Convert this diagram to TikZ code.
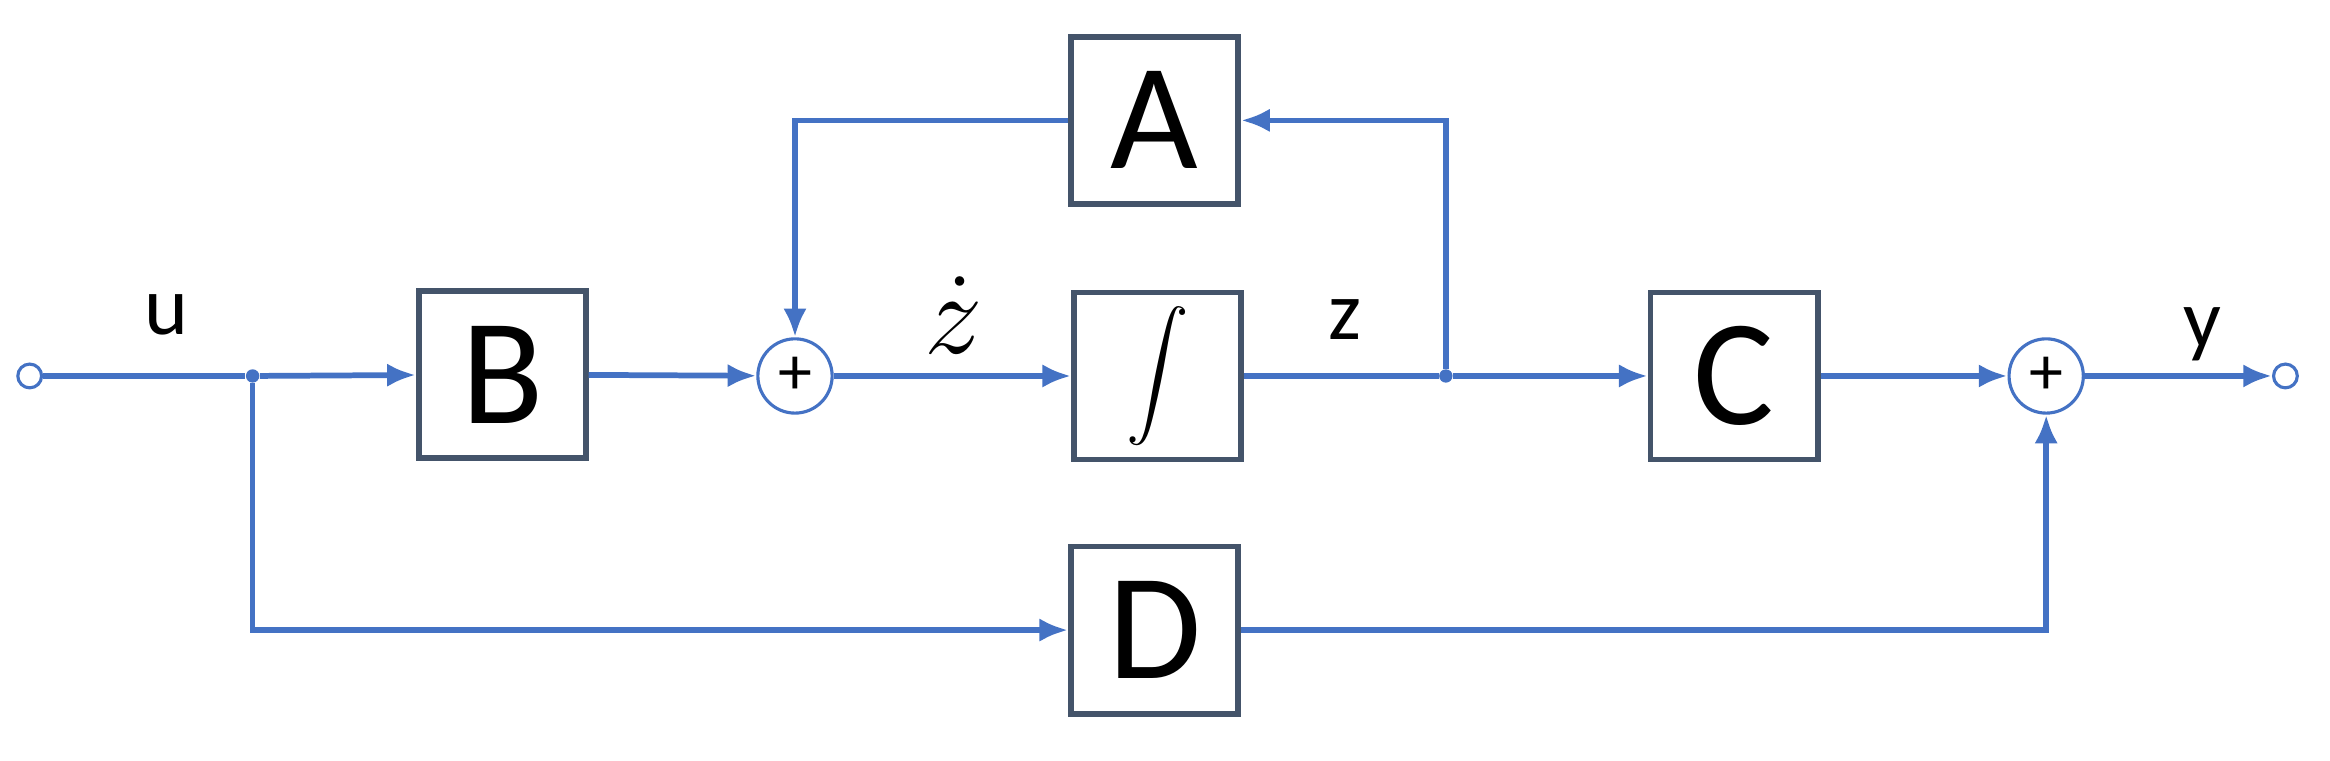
\documentclass[tikz,border=0pt]{standalone}
\usepackage{fontspec}
\setmainfont{Carlito}
\usetikzlibrary{arrows.meta}
\definecolor{wire}{HTML}{4472C4}
\definecolor{frame}{HTML}{44546A}
\begin{document}
\begin{tikzpicture}[x=0.02cm,y=-0.02cm,
  blk/.style={draw=frame,line width=2.2pt,minimum width=2.25cm,minimum height=2.25cm,inner sep=0pt,font=\fontsize{58}{60}\selectfont},
  sum/.style={circle,draw=wire,line width=1.2pt,minimum size=1cm,inner sep=0pt,font=\fontsize{26}{28}\selectfont},
  term/.style={circle,draw=wire,line width=1.2pt,minimum size=0.32cm,inner sep=0pt},
  dot/.style={circle,fill=wire,minimum size=0.18cm,inner sep=0pt},
  w/.style={draw=wire,line width=2.2pt},
  a/.style={w,-{Latex[length=11pt,width=9pt]}},
  lbl/.style={font=\fontsize{32}{34}\selectfont}]
\useasboundingbox (0,0) rectangle (1568,512);
\node[term] (in) at (20,253) {};
\node[term] (out) at (1538,253) {};
\node[dot] (j1) at (170,253) {};
\node[dot] (j2) at (973,253) {};
\node[blk] (B) at (338,252) {B};
\node[sum] (s1) at (535,253) {+};
\node[blk] (I) at (779,253) {\scalebox{2.4}{$\displaystyle\int$}};
\node[blk] (A) at (777,81) {A};
\node[blk] (C) at (1167,253) {C};
\node[blk] (D) at (777,424) {D};
\node[sum] (s2) at (1377,253) {+};
\coordinate (ca) at (535,81);
\coordinate (cz) at (973,81);
\coordinate (cd) at (170,424);
\coordinate (ce) at (1377,424);
\node[lbl] at (112,212) {u};
\node[lbl] at (642,212) {\scalebox{1.8}{$\dot z$}};
\node[lbl] at (905,215) {z};
\node[lbl] at (1482,225) {y};
\draw[w] (in) -- (j1);
\draw[a] (j1) -- (B);
\draw[a] (B) -- (s1);
\draw[a] (A) -- (ca) -- (s1);
\draw[a] (s1) -- (I);
\draw[w] (I) -- (j2);
\draw[a] (j2) -- (C);
\draw[a] (j2) -- (cz) -- (A);
\draw[a] (C) -- (s2);
\draw[a] (s2) -- (out);
\draw[a] (j1) -- (cd) -- (D);
\draw[a] (D) -- (ce) -- (s2);
\end{tikzpicture}
\end{document}
